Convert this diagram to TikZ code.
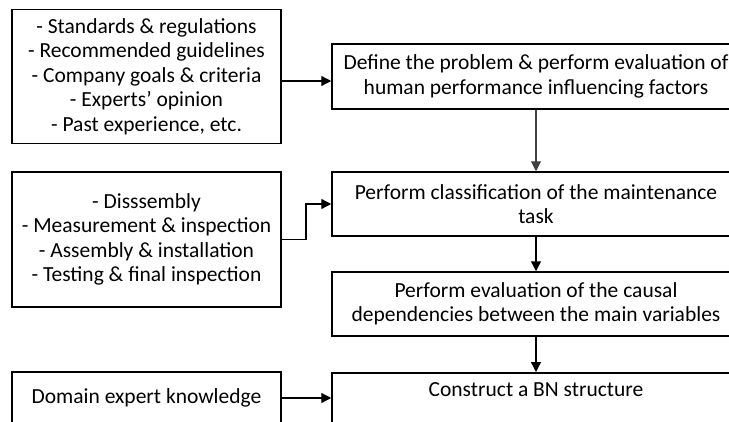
\documentclass[tikz,border=0pt]{standalone}
\usepackage{fontspec}
\setmainfont{Carlito}
\usetikzlibrary{arrows.meta}
\begin{document}
\begin{tikzpicture}[x=1pt,y=-1pt,
  box/.style={draw=black, line width=1.5pt, rectangle, inner sep=0pt, align=center,
    font=\fontsize{21.5}{24.5}\selectfont},
  plain/.style={inner sep=0pt, align=center, font=\fontsize{21.5}{24.5}\selectfont},
  conn/.style={line width=1.3pt, -{Triangle[length=10pt,width=10pt]}},
  gconn/.style={line width=1.1pt, draw=black!75, -{Triangle[length=10pt,width=10pt]}, color=black!75}]
\useasboundingbox (0,0) rectangle (729,421);
\clip (0,0) rectangle (729,421);
% left boxes
\node[box, minimum width=269pt, minimum height=134pt] (src) at (146.5,76.5)
  {- Standards \& regulations\\- Recommended guidelines\\- Company goals \& criteria\\- Experts’ opinion\\- Past experience, etc.};
\node[box, minimum width=269pt, minimum height=135pt] (task) at (146.5,239.5)
  {- Disssembly\\- Measurement \& inspection\\- Assembly \& installation\\- Testing \& final inspection};
\node[box, minimum width=269pt, minimum height=52pt] (dom) at (146.5,398)
  {Domain expert knowledge};
% right boxes
\node[box, minimum width=408pt, minimum height=65pt] (def) at (536,76.5)
  {Define the problem \& perform evaluation of\\human performance influencing factors};
\node[box, minimum width=408pt, minimum height=64pt] (cls) at (536,204)
  {Perform classification of the maintenance\\task};
\node[box, minimum width=408pt, minimum height=64pt] (eva) at (536,304)
  {Perform evaluation of the causal\\dependencies between the main variables};
\node[box, minimum width=408pt, minimum height=60pt, anchor=north] (bn) at (536,372) {};
\node[plain] (bntext) at (536,390) {Construct a BN structure};
% connectors
\draw[conn] ([yshift=-4.5pt]src.east) -- ([yshift=-4.5pt]def.west);
\draw[gconn] (def.south) -- (cls.north);
\draw[conn] (task.east) -| (306,204) -- (cls.west);
\draw[conn] (cls.south) -- (eva.north);
\draw[conn] (eva.south) -- (bn.north);
\draw[conn] (dom.east) -- (dom.east -| bn.west);
\end{tikzpicture}
\end{document}
